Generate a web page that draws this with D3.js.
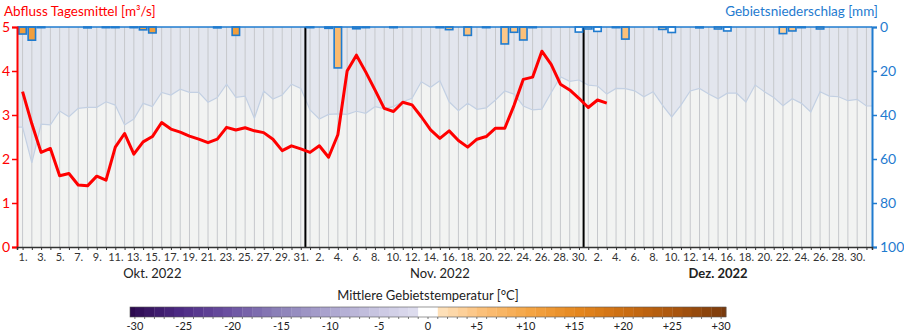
<!DOCTYPE html>
<html>
<head>
<meta charset="utf-8">
<script src="https://cdn.jsdelivr.net/npm/d3@7/dist/d3.min.js"></script>
<style>
  body { margin: 0; background: #fff; }
  svg { display: block; font-family: Lato, "Noto Sans", sans-serif; }
</style>
</head>
<body>
<svg id="chart" width="904" height="334"></svg>
<script>
// Daily series from 1 Oct 2022 to 31 Dec 2022 (92 days)
const startDate = new Date(2022, 9, 1);
const dayCount = 92;

// Mean daily discharge [m³/s] (available until 3 Dec)
const discharge = [
  3.53, 2.80, 2.15, 2.24, 1.62, 1.67, 1.41, 1.39, 1.61, 1.52,
  2.27, 2.58, 2.11, 2.39, 2.51, 2.83, 2.68, 2.61, 2.52, 2.45,
  2.37, 2.45, 2.72, 2.66, 2.71, 2.64, 2.60, 2.45, 2.19, 2.30, 2.23,
  2.15, 2.30, 2.04, 2.55, 4.00, 4.36, 3.98, 3.57, 3.15, 3.08,
  3.29, 3.23, 2.96, 2.66, 2.47, 2.64, 2.42, 2.27, 2.45, 2.51,
  2.70, 2.70, 3.22, 3.81, 3.86, 4.45, 4.15, 3.70, 3.57, 3.38,
  3.17, 3.34, 3.27
];

// Areal precipitation [mm]
const precipitation = [
  3.2, 6.0, 0.3, 0, 0, 0, 0, 0.4, 0, 0.3,
  0.3, 0, 0.3, 1.3, 2.7, 0, 0, 0, 0, 0,
  0, 0.4, 0, 3.8, 0, 0, 0, 0, 0, 0, 0,
  0.3, 0, 0.6, 18.6, 0, 0.8, 0.3, 0, 0, 0.3,
  0, 0, 0, 0, 0.3, 1.2, 0, 3.8, 0, 0.3,
  0, 7.7, 2.4, 5.9, 0.3, 0, 0, 0, 0, 2.3,
  0.9, 2.0, 0, 0.3, 5.5, 0, 0, 0, 1.1, 2.5,
  0, 0, 0.4, 0, 0.9, 1.8, 0, 0, 0, 0,
  0, 3.0, 1.8, 0.3, 0, 0.9, 0, 0, 0, 0, 0
];

// Mean areal temperature [°C] on days with precipitation
const temperature = [
  11, 11, 12, null, null, null, null, 10, null, 11,
  11, null, 10, 10, 11, null, null, null, null, null,
  null, 10, null, 11, null, null, null, null, null, null, null,
  8, null, 8, 6, null, 7, 6, null, null, 6,
  null, null, null, null, 5, 5, null, 5, null, 5,
  null, 4, 4, 5, 4, null, null, null, null, 0,
  2, 0, null, 2, 5, null, null, null, 2, 0,
  null, null, 0, null, 2, 0, null, null, null, null,
  null, 3, 4, 3, null, 4, null, null, null, null, null
];

// Upper envelope band on the precipitation axis [mm]
const bandDepth = [
  45.5, 61.8, 44.2, 44.5, 38.2, 40.8, 37.0, 36.5, 36.5, 34.0,
  35.5, 44.5, 41.8, 34.7, 36.2, 29.7, 30.9, 28.3, 29.7, 29.7,
  34.2, 32.1, 26.0, 32.0, 31.4, 41.5, 29.1, 32.7, 30.9, 26.0, 27.9,
  37.7, 41.8, 39.7, 39.5, 39.7, 38.3, 39.2, 36.2, 37.1, 36.2,
  34.0, 32.4, 24.9, 27.4, 24.4, 34.0, 38.0, 34.7, 37.4, 36.8,
  33.2, 29.1, 30.5, 35.9, 37.7, 37.3, 29.9, 22.6, 24.7, 24.1,
  26.4, 26.8, 30.5, 27.9, 28.0, 29.0, 31.7, 29.4, 35.5, 40.9,
  35.5, 29.1, 27.9, 30.5, 32.6, 30.1, 30.1, 34.1, 26.4, 29.4,
  32.0, 35.8, 32.6, 34.7, 38.6, 29.4, 31.4, 31.7, 33.5, 32.9, 35.9
];

const monthLabels = ["Okt. 2022", "Nov. 2022", "Dez. 2022"];
const monthStart = [0, 31, 61];
const dischargeTicks = [0, 1, 2, 3, 4, 5];
const precipTicks = [0, 20, 40, 60, 80, 100];
const legendTicks = [-30, -25, -20, -15, -10, -5, 0, 5, 10, 15, 20, 25, 30];

const RED = "#ff0000";
const BLUE = "#1f7bcf";

const svg = d3.select("#chart");
const plot = { left: 17, right: 872, top: 27, bottom: 247 };

const x = d3.scaleLinear().domain([-0.6, dayCount - 0.4]).range([plot.left, plot.right]);
const yQ = d3.scaleLinear().domain([0, 5]).range([plot.bottom, plot.top]);
const yP = d3.scaleLinear().domain([0, 100]).range([plot.top, plot.bottom]);
const days = d3.range(dayCount);
const step = x(1) - x(0);

// Temperature colour ramp (purple below zero, orange above)
const warm = d3.scaleLinear()
  .domain([1, 5, 10, 15, 20, 25, 30])
  .range(["#fee0b8", "#fbc07a", "#f4a443", "#e4861e", "#c96c12", "#a8540d", "#7a3a0c"])
  .clamp(true);
const cold = d3.scaleLinear()
  .domain([-1, -5, -10, -15, -20, -25, -30])
  .range(["#dddcee", "#c7c4e0", "#a9a2cd", "#8a7fb7", "#6a4fa0", "#4c2a83", "#2c0a4e"])
  .clamp(true);
function tempColor(t) {
  if (t == null || Math.abs(t) < 1) return "#ffffff";
  return t > 0 ? warm(Math.floor(t)) : cold(Math.ceil(t));
}

// Plot background
svg.append("rect")
  .attr("x", plot.left).attr("y", plot.top)
  .attr("width", plot.right - plot.left).attr("height", plot.bottom - plot.top)
  .attr("fill", "#f2f3f2");

// Band from the top down to the envelope line, extended to the plot edges
const bandDays = [-0.6, ...days, dayCount - 0.4];
const bandVal = i => bandDepth[Math.max(0, Math.min(dayCount - 1, Math.round(i)))];
svg.append("path")
  .attr("fill", "#e3e6ee")
  .attr("d", d3.area().x(i => x(i)).y0(yP(0)).y1(i => yP(bandVal(i)))(bandDays));

// Daily grid lines
svg.append("g")
  .selectAll("line")
  .data(days)
  .join("line")
  .attr("x1", i => x(i)).attr("x2", i => x(i))
  .attr("y1", plot.top).attr("y2", plot.bottom)
  .attr("stroke", "#c6c8cc").attr("stroke-width", 1);

svg.append("path")
  .attr("fill", "none")
  .attr("stroke", "#c3d0e3")
  .attr("stroke-width", 1.2)
  .attr("d", d3.line().x(i => x(i)).y(i => yP(bandVal(i)))(bandDays));

// Month separators
svg.append("g")
  .selectAll("line")
  .data(monthStart.slice(1))
  .join("line")
  .attr("x1", i => x(i - 0.5)).attr("x2", i => x(i - 0.5))
  .attr("y1", plot.top).attr("y2", plot.bottom)
  .attr("stroke", "#000").attr("stroke-width", 2);

// Precipitation bars hanging from the top
const barW = step * 0.8;
svg.append("g")
  .selectAll("rect")
  .data(days.filter(i => precipitation[i] > 0))
  .join("rect")
  .attr("x", i => x(i) - barW / 2)
  .attr("y", yP(0))
  .attr("width", barW)
  .attr("height", i => yP(precipitation[i]) - yP(0))
  .attr("fill", i => tempColor(temperature[i]))
  .attr("stroke", BLUE)
  .attr("stroke-width", 1.6);

svg.append("line")
  .attr("x1", plot.left).attr("x2", plot.right)
  .attr("y1", plot.top).attr("y2", plot.top)
  .attr("stroke", BLUE).attr("stroke-width", 1.6);

// Discharge line
svg.append("path")
  .attr("fill", "none")
  .attr("stroke", RED)
  .attr("stroke-width", 3)
  .attr("stroke-linejoin", "round")
  .attr("d", d3.line().x((d, i) => x(i)).y(d => yQ(d))(discharge));

// Left axis (discharge)
const axL = svg.append("g")
  .attr("transform", `translate(${plot.left},0)`)
  .call(d3.axisLeft(yQ).tickValues(dischargeTicks).tickSize(5).tickPadding(2).tickFormat(d3.format("d")));
axL.select(".domain").attr("stroke", RED).attr("stroke-width", 2);
axL.selectAll(".tick line").attr("stroke", RED).attr("stroke-width", 1.5);
axL.selectAll(".tick text").attr("fill", RED).attr("font-size", 14).attr("font-family", "Lato, sans-serif");

// Right axis (precipitation)
const axR = svg.append("g")
  .attr("transform", `translate(${plot.right},0)`)
  .call(d3.axisRight(yP).tickValues(precipTicks).tickSize(5).tickPadding(3).tickFormat(d3.format("d")));
axR.select(".domain").attr("stroke", BLUE).attr("stroke-width", 2);
axR.selectAll(".tick line").attr("stroke", BLUE).attr("stroke-width", 1.5);
axR.selectAll(".tick text").attr("fill", BLUE).attr("font-size", 14).attr("font-family", "Lato, sans-serif");

// Time axis
const axB = svg.append("g")
  .attr("transform", `translate(0,${plot.bottom})`)
  .call(d3.axisBottom(x).tickValues(days).tickSize(3).tickPadding(3)
    .tickFormat(i => i % 2 === 0 ? d3.timeDay.offset(startDate, i).getDate() + "." : ""));
axB.select(".domain").attr("stroke", "#333").attr("stroke-width", 1.5);
axB.selectAll(".tick line").attr("stroke", "#333");
axB.selectAll(".tick text").attr("fill", "#333").attr("font-size", 11).attr("font-family", "Lato, sans-serif");

svg.append("g")
  .selectAll("text")
  .data(monthLabels)
  .join("text")
  .attr("x", (d, k) => x(monthStart[k] + 14))
  .attr("y", 278)
  .attr("text-anchor", "middle")
  .attr("font-size", 13)
  .attr("font-weight", (d, k) => k === 2 ? "bold" : "normal")
  .attr("fill", "#222")
  .text(d => d);

// Axis titles
svg.append("text")
  .attr("x", 4).attr("y", 16)
  .attr("font-size", 13.5).attr("fill", RED)
  .text("Abfluss Tagesmittel [m³/s]");
svg.append("text")
  .attr("x", 878).attr("y", 16)
  .attr("text-anchor", "end")
  .attr("font-size", 13.5).attr("fill", BLUE)
  .text("Gebietsniederschlag [mm]");

// Temperature legend
const lx = d3.scaleLinear().domain([-30.5, 30.5]).range([130, 726]);
const legendBins = d3.range(-30, 31);
const binSpan = t => t === 0 ? [-1, 1] : t > 0 ? [t, Math.min(t + 1, 30.5)] : [Math.max(t - 1, -30.5), t];
svg.append("g")
  .selectAll("rect")
  .data(legendBins)
  .join("rect")
  .attr("x", t => lx(binSpan(t)[0]))
  .attr("y", 307)
  .attr("width", t => lx(binSpan(t)[1]) - lx(binSpan(t)[0]) + 0.3)
  .attr("height", 10)
  .attr("fill", t => tempColor(t));
svg.append("rect")
  .attr("x", lx(-30.5)).attr("y", 307)
  .attr("width", lx(30.5) - lx(-30.5)).attr("height", 10)
  .attr("fill", "none").attr("stroke", "#555").attr("stroke-width", 0.6);
svg.append("g")
  .selectAll("line")
  .data(d3.range(-30, 31))
  .join("line")
  .attr("x1", t => lx(t)).attr("x2", t => lx(t))
  .attr("y1", 317).attr("y2", 319)
  .attr("stroke", "#555").attr("stroke-width", 0.8);
svg.append("g")
  .selectAll("text")
  .data(legendTicks)
  .join("text")
  .attr("x", t => lx(t))
  .attr("y", 330)
  .attr("text-anchor", "middle")
  .attr("font-size", 11)
  .attr("fill", "#222")
  .text(t => t > 0 ? "+" + t : String(t));
svg.append("text")
  .attr("x", lx(0)).attr("y", 300)
  .attr("text-anchor", "middle")
  .attr("font-size", 13)
  .attr("fill", "#222")
  .text("Mittlere Gebietstemperatur [°C]");
</script>
</body>
</html>
